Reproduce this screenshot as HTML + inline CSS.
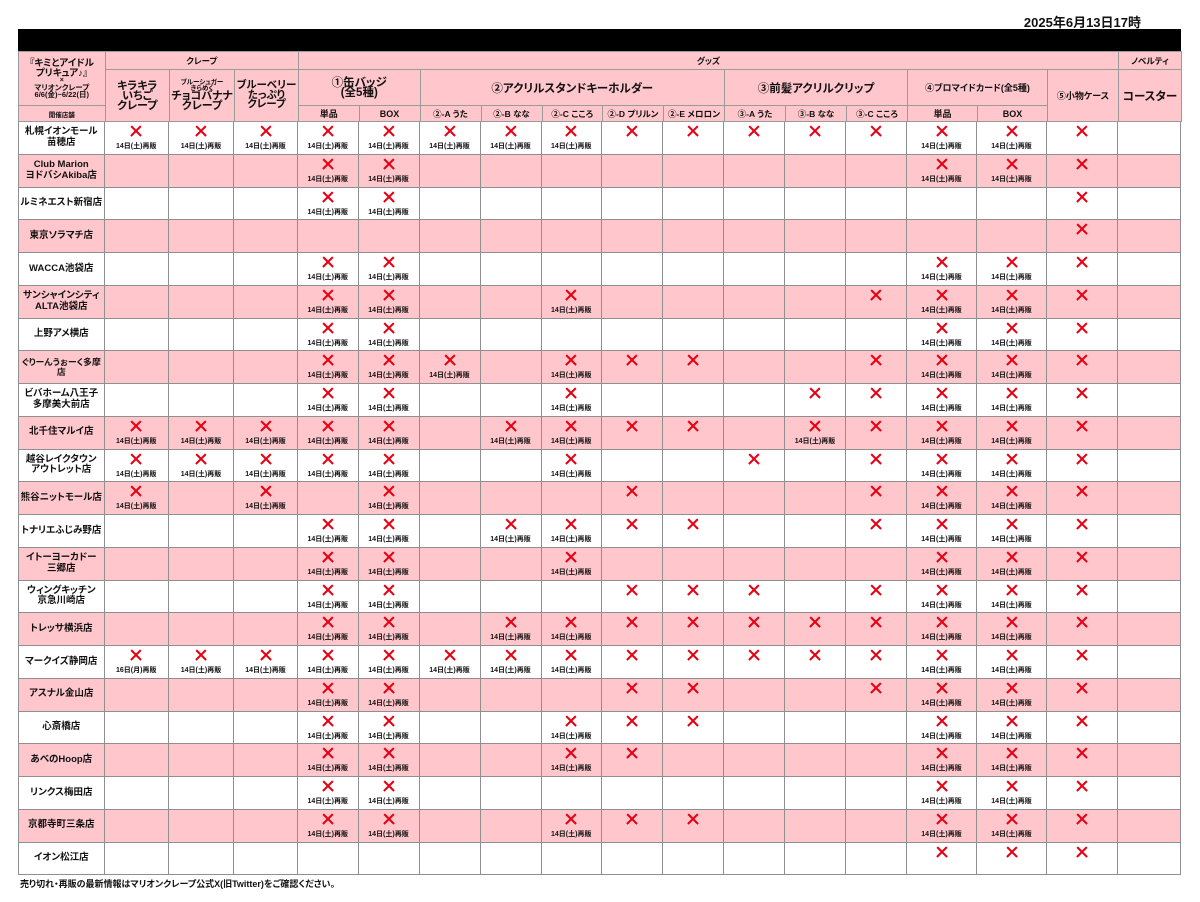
<!DOCTYPE html>
<html lang="ja">
<head>
<meta charset="utf-8">
<style>
html,body{margin:0;padding:0;}
body{width:1200px;height:902px;background:#fff;position:relative;overflow:hidden;font-family:"Liberation Sans","Noto Sans CJK JP",sans-serif;font-weight:bold;color:#111;font-feature-settings:"palt";}
.date{position:absolute;right:59px;top:15px;font-size:13px;line-height:16px;white-space:nowrap;}
.bar{position:absolute;left:18px;top:29px;width:1163px;height:22px;background:#000;}
.h{position:absolute;box-sizing:border-box;border:1px solid #9a9a9a;background:#ffc6cc;display:flex;flex-direction:column;align-items:center;justify-content:center;text-align:center;white-space:nowrap;}
.h span{display:block;}
#b{position:absolute;left:18px;top:122px;width:1163px;}
.r{display:grid;grid-template-columns:86.5px 64.5px 65px 64px 60.5px 61px 61px 61px 60.5px 61px 61px 61px 61px 61px 70px 70px 71px 63px;height:32.75px;}
.r.p{background:#ffc6cc;}
.r>div{position:relative;box-sizing:border-box;border-right:1px solid #8f8f8f;border-bottom:1px solid #8f8f8f;}
.r>div.s{border-left:1px solid #8f8f8f;display:flex;align-items:center;justify-content:center;text-align:center;font-size:9.5px;line-height:10.5px;white-space:nowrap;}
i{position:absolute;left:50%;top:4px;width:10px;height:10px;margin-left:-5px;}
i:before,i:after{content:"";position:absolute;left:-2px;top:4px;width:14px;height:2.4px;background:#e60012;transform:rotate(45deg);}
i:after{transform:rotate(-45deg);}
u{position:absolute;left:0;right:0;top:20px;text-decoration:none;font-size:7px;line-height:10px;text-align:center;white-space:nowrap;}
.foot{position:absolute;left:20px;top:878px;font-size:9px;line-height:12px;white-space:nowrap;}
</style>
</head>
<body>
<div class="date">2025年6月13日17時</div>
<div class="bar"></div>

<div class="h" style="left:18px;top:51px;width:87.5px;height:55px">
<span style="font-size:9.5px;line-height:10px">『キミとアイドル</span>
<span style="font-size:9.5px;line-height:9px">プリキュア♪』</span>
<span style="font-size:7px;line-height:6px">×</span>
<span style="font-size:7.5px;line-height:7px">マリオンクレープ</span>
<span style="font-size:7.5px;line-height:7px">6/6(金)~6/22(日)</span>
</div>
<div class="h" style="left:18px;top:105px;width:87.5px;height:17px;font-size:6.5px">開催店舗</div>

<div class="h" style="left:104.5px;top:51px;width:194.5px;height:19px;font-size:8.5px">クレープ</div>
<div class="h" style="left:298px;top:51px;width:821px;height:19px;font-size:8.5px">グッズ</div>
<div class="h" style="left:1118px;top:51px;width:64px;height:19px;font-size:8.5px">ノベルティ</div>

<div class="h" style="left:104.5px;top:69px;width:65.5px;height:53px;font-size:11px;line-height:10px"><span>キラキラ</span><span>いちご</span><span>クレープ</span></div>
<div class="h" style="left:169px;top:69px;width:66px;height:53px">
<span style="font-size:6.5px;line-height:5.5px">ブルーシュガー</span>
<span style="font-size:6.5px;line-height:5.5px">きらめく</span>
<span style="font-size:11px;line-height:10px">チョコバナナ</span>
<span style="font-size:11px;line-height:10px">クレープ</span>
</div>
<div class="h" style="left:234px;top:69px;width:65px;height:53px;font-size:10.5px;line-height:9.8px"><span>ブルーベリー</span><span>たっぷり</span><span>クレープ</span></div>

<div class="h" style="left:298px;top:69px;width:122.5px;height:37px;font-size:11.5px;line-height:10px"><span>①缶バッジ</span><span>(全5種)</span></div>
<div class="h" style="left:419.5px;top:69px;width:305.5px;height:37px;font-size:11.5px">②アクリルスタンドキーホルダー</div>
<div class="h" style="left:724px;top:69px;width:184px;height:37px;font-size:11.5px">③前髪アクリルクリップ</div>
<div class="h" style="left:907px;top:69px;width:141px;height:37px;font-size:9px">④ブロマイドカード(全5種)</div>
<div class="h" style="left:1047px;top:69px;width:72px;height:53px;font-size:9px">⑤小物ケース</div>
<div class="h" style="left:1118px;top:69px;width:64px;height:53px;font-size:11.5px">コースター</div>

<div class="h" style="left:298px;top:105px;width:61.5px;height:17px;font-size:9px">単品</div>
<div class="h" style="left:358.5px;top:105px;width:62px;height:17px;font-size:9px">BOX</div>
<div class="h" style="left:419.5px;top:105px;width:62px;height:17px;font-size:8.5px">②-A うた</div>
<div class="h" style="left:480.5px;top:105px;width:62px;height:17px;font-size:8.5px">②-B なな</div>
<div class="h" style="left:541.5px;top:105px;width:61.5px;height:17px;font-size:8.5px">②-C こころ</div>
<div class="h" style="left:602px;top:105px;width:62px;height:17px;font-size:8.5px">②-D プリルン</div>
<div class="h" style="left:663px;top:105px;width:62px;height:17px;font-size:8.5px">②-E メロロン</div>
<div class="h" style="left:724px;top:105px;width:62px;height:17px;font-size:8.5px">③-A うた</div>
<div class="h" style="left:785px;top:105px;width:62px;height:17px;font-size:8.5px">③-B なな</div>
<div class="h" style="left:846px;top:105px;width:62px;height:17px;font-size:8.5px">③-C こころ</div>
<div class="h" style="left:907px;top:105px;width:71px;height:17px;font-size:9px">単品</div>
<div class="h" style="left:977px;top:105px;width:71px;height:17px;font-size:9px">BOX</div>

<div id="b">
<!-- 1 -->
<div class="r"><div class="s">札幌イオンモール<br>苗穂店</div><div><i></i><u>14日(土)再販</u></div><div><i></i><u>14日(土)再販</u></div><div><i></i><u>14日(土)再販</u></div><div><i></i><u>14日(土)再販</u></div><div><i></i><u>14日(土)再販</u></div><div><i></i><u>14日(土)再販</u></div><div><i></i><u>14日(土)再販</u></div><div><i></i><u>14日(土)再販</u></div><div><i></i></div><div><i></i></div><div><i></i></div><div><i></i></div><div><i></i></div><div><i></i><u>14日(土)再販</u></div><div><i></i><u>14日(土)再販</u></div><div><i></i></div><div></div></div>
<!-- 2 -->
<div class="r p"><div class="s">Club Marion<br>ヨドバシAkiba店</div><div></div><div></div><div></div><div><i></i><u>14日(土)再販</u></div><div><i></i><u>14日(土)再販</u></div><div></div><div></div><div></div><div></div><div></div><div></div><div></div><div></div><div><i></i><u>14日(土)再販</u></div><div><i></i><u>14日(土)再販</u></div><div><i></i></div><div></div></div>
<!-- 3 -->
<div class="r"><div class="s">ルミネエスト新宿店</div><div></div><div></div><div></div><div><i></i><u>14日(土)再販</u></div><div><i></i><u>14日(土)再販</u></div><div></div><div></div><div></div><div></div><div></div><div></div><div></div><div></div><div></div><div></div><div><i></i></div><div></div></div>
<!-- 4 -->
<div class="r p"><div class="s">東京ソラマチ店</div><div></div><div></div><div></div><div></div><div></div><div></div><div></div><div></div><div></div><div></div><div></div><div></div><div></div><div></div><div></div><div><i></i></div><div></div></div>
<!-- 5 -->
<div class="r"><div class="s">WACCA池袋店</div><div></div><div></div><div></div><div><i></i><u>14日(土)再販</u></div><div><i></i><u>14日(土)再販</u></div><div></div><div></div><div></div><div></div><div></div><div></div><div></div><div></div><div><i></i><u>14日(土)再販</u></div><div><i></i><u>14日(土)再販</u></div><div><i></i></div><div></div></div>
<!-- 6 -->
<div class="r p"><div class="s">サンシャインシティ<br>ALTA池袋店</div><div></div><div></div><div></div><div><i></i><u>14日(土)再販</u></div><div><i></i><u>14日(土)再販</u></div><div></div><div></div><div><i></i><u>14日(土)再販</u></div><div></div><div></div><div></div><div></div><div><i></i></div><div><i></i><u>14日(土)再販</u></div><div><i></i><u>14日(土)再販</u></div><div><i></i></div><div></div></div>
<!-- 7 -->
<div class="r"><div class="s">上野アメ横店</div><div></div><div></div><div></div><div><i></i><u>14日(土)再販</u></div><div><i></i><u>14日(土)再販</u></div><div></div><div></div><div></div><div></div><div></div><div></div><div></div><div></div><div><i></i><u>14日(土)再販</u></div><div><i></i><u>14日(土)再販</u></div><div><i></i></div><div></div></div>
<!-- 8 -->
<div class="r p"><div class="s" style="font-size:8.8px">ぐりーんうぉーく多摩<br>店</div><div></div><div></div><div></div><div><i></i><u>14日(土)再販</u></div><div><i></i><u>14日(土)再販</u></div><div><i></i><u>14日(土)再販</u></div><div></div><div><i></i><u>14日(土)再販</u></div><div><i></i></div><div><i></i></div><div></div><div></div><div><i></i></div><div><i></i><u>14日(土)再販</u></div><div><i></i><u>14日(土)再販</u></div><div><i></i></div><div></div></div>
<!-- 9 -->
<div class="r"><div class="s">ビバホーム八王子<br>多摩美大前店</div><div></div><div></div><div></div><div><i></i><u>14日(土)再販</u></div><div><i></i><u>14日(土)再販</u></div><div></div><div></div><div><i></i><u>14日(土)再販</u></div><div></div><div></div><div></div><div><i></i></div><div><i></i></div><div><i></i><u>14日(土)再販</u></div><div><i></i><u>14日(土)再販</u></div><div><i></i></div><div></div></div>
<!-- 10 -->
<div class="r p"><div class="s">北千住マルイ店</div><div><i></i><u>14日(土)再販</u></div><div><i></i><u>14日(土)再販</u></div><div><i></i><u>14日(土)再販</u></div><div><i></i><u>14日(土)再販</u></div><div><i></i><u>14日(土)再販</u></div><div></div><div><i></i><u>14日(土)再販</u></div><div><i></i><u>14日(土)再販</u></div><div><i></i></div><div><i></i></div><div></div><div><i></i><u>14日(土)再販</u></div><div><i></i></div><div><i></i><u>14日(土)再販</u></div><div><i></i><u>14日(土)再販</u></div><div><i></i></div><div></div></div>
<!-- 11 -->
<div class="r"><div class="s">越谷レイクタウン<br>アウトレット店</div><div><i></i><u>14日(土)再販</u></div><div><i></i><u>14日(土)再販</u></div><div><i></i><u>14日(土)再販</u></div><div><i></i><u>14日(土)再販</u></div><div><i></i><u>14日(土)再販</u></div><div></div><div></div><div><i></i><u>14日(土)再販</u></div><div></div><div></div><div><i></i></div><div></div><div><i></i></div><div><i></i><u>14日(土)再販</u></div><div><i></i><u>14日(土)再販</u></div><div><i></i></div><div></div></div>
<!-- 12 -->
<div class="r p"><div class="s">熊谷ニットモール店</div><div><i></i><u>14日(土)再販</u></div><div></div><div><i></i><u>14日(土)再販</u></div><div></div><div><i></i><u>14日(土)再販</u></div><div></div><div></div><div></div><div><i></i></div><div></div><div></div><div></div><div><i></i></div><div><i></i><u>14日(土)再販</u></div><div><i></i><u>14日(土)再販</u></div><div><i></i></div><div></div></div>
<!-- 13 -->
<div class="r"><div class="s">トナリエふじみ野店</div><div></div><div></div><div></div><div><i></i><u>14日(土)再販</u></div><div><i></i><u>14日(土)再販</u></div><div></div><div><i></i><u>14日(土)再販</u></div><div><i></i><u>14日(土)再販</u></div><div><i></i></div><div><i></i></div><div></div><div></div><div><i></i></div><div><i></i><u>14日(土)再販</u></div><div><i></i><u>14日(土)再販</u></div><div><i></i></div><div></div></div>
<!-- 14 -->
<div class="r p"><div class="s">イトーヨーカドー<br>三郷店</div><div></div><div></div><div></div><div><i></i><u>14日(土)再販</u></div><div><i></i><u>14日(土)再販</u></div><div></div><div></div><div><i></i><u>14日(土)再販</u></div><div></div><div></div><div></div><div></div><div></div><div><i></i><u>14日(土)再販</u></div><div><i></i><u>14日(土)再販</u></div><div><i></i></div><div></div></div>
<!-- 15 -->
<div class="r"><div class="s">ウィングキッチン<br>京急川崎店</div><div></div><div></div><div></div><div><i></i><u>14日(土)再販</u></div><div><i></i><u>14日(土)再販</u></div><div></div><div></div><div></div><div><i></i></div><div><i></i></div><div><i></i></div><div></div><div><i></i></div><div><i></i><u>14日(土)再販</u></div><div><i></i><u>14日(土)再販</u></div><div><i></i></div><div></div></div>
<!-- 16 -->
<div class="r p"><div class="s">トレッサ横浜店</div><div></div><div></div><div></div><div><i></i><u>14日(土)再販</u></div><div><i></i><u>14日(土)再販</u></div><div></div><div><i></i><u>14日(土)再販</u></div><div><i></i><u>14日(土)再販</u></div><div><i></i></div><div><i></i></div><div><i></i></div><div><i></i></div><div><i></i></div><div><i></i><u>14日(土)再販</u></div><div><i></i><u>14日(土)再販</u></div><div><i></i></div><div></div></div>
<!-- 17 -->
<div class="r"><div class="s">マークイズ静岡店</div><div><i></i><u>16日(月)再販</u></div><div><i></i><u>14日(土)再販</u></div><div><i></i><u>14日(土)再販</u></div><div><i></i><u>14日(土)再販</u></div><div><i></i><u>14日(土)再販</u></div><div><i></i><u>14日(土)再販</u></div><div><i></i><u>14日(土)再販</u></div><div><i></i><u>14日(土)再販</u></div><div><i></i></div><div><i></i></div><div><i></i></div><div><i></i></div><div><i></i></div><div><i></i><u>14日(土)再販</u></div><div><i></i><u>14日(土)再販</u></div><div><i></i></div><div></div></div>
<!-- 18 -->
<div class="r p"><div class="s">アスナル金山店</div><div></div><div></div><div></div><div><i></i><u>14日(土)再販</u></div><div><i></i><u>14日(土)再販</u></div><div></div><div></div><div></div><div><i></i></div><div><i></i></div><div></div><div></div><div><i></i></div><div><i></i><u>14日(土)再販</u></div><div><i></i><u>14日(土)再販</u></div><div><i></i></div><div></div></div>
<!-- 19 -->
<div class="r"><div class="s">心斎橋店</div><div></div><div></div><div></div><div><i></i><u>14日(土)再販</u></div><div><i></i><u>14日(土)再販</u></div><div></div><div></div><div><i></i><u>14日(土)再販</u></div><div><i></i></div><div><i></i></div><div></div><div></div><div></div><div><i></i><u>14日(土)再販</u></div><div><i></i><u>14日(土)再販</u></div><div><i></i></div><div></div></div>
<!-- 20 -->
<div class="r p"><div class="s">あべのHoop店</div><div></div><div></div><div></div><div><i></i><u>14日(土)再販</u></div><div><i></i><u>14日(土)再販</u></div><div></div><div></div><div><i></i><u>14日(土)再販</u></div><div><i></i></div><div></div><div></div><div></div><div></div><div><i></i><u>14日(土)再販</u></div><div><i></i><u>14日(土)再販</u></div><div><i></i></div><div></div></div>
<!-- 21 -->
<div class="r"><div class="s">リンクス梅田店</div><div></div><div></div><div></div><div><i></i><u>14日(土)再販</u></div><div><i></i><u>14日(土)再販</u></div><div></div><div></div><div></div><div></div><div></div><div></div><div></div><div></div><div><i></i><u>14日(土)再販</u></div><div><i></i><u>14日(土)再販</u></div><div><i></i></div><div></div></div>
<!-- 22 -->
<div class="r p"><div class="s">京都寺町三条店</div><div></div><div></div><div></div><div><i></i><u>14日(土)再販</u></div><div><i></i><u>14日(土)再販</u></div><div></div><div></div><div><i></i><u>14日(土)再販</u></div><div><i></i></div><div><i></i></div><div></div><div></div><div></div><div><i></i><u>14日(土)再販</u></div><div><i></i><u>14日(土)再販</u></div><div><i></i></div><div></div></div>
<!-- 23 -->
<div class="r"><div class="s">イオン松江店</div><div></div><div></div><div></div><div></div><div></div><div></div><div></div><div></div><div></div><div></div><div></div><div></div><div></div><div><i></i></div><div><i></i></div><div><i></i></div><div></div></div>
</div>

<div class="foot">売り切れ・再販の最新情報はマリオンクレープ公式X(旧Twitter)をご確認ください。</div>
</body>
</html>
